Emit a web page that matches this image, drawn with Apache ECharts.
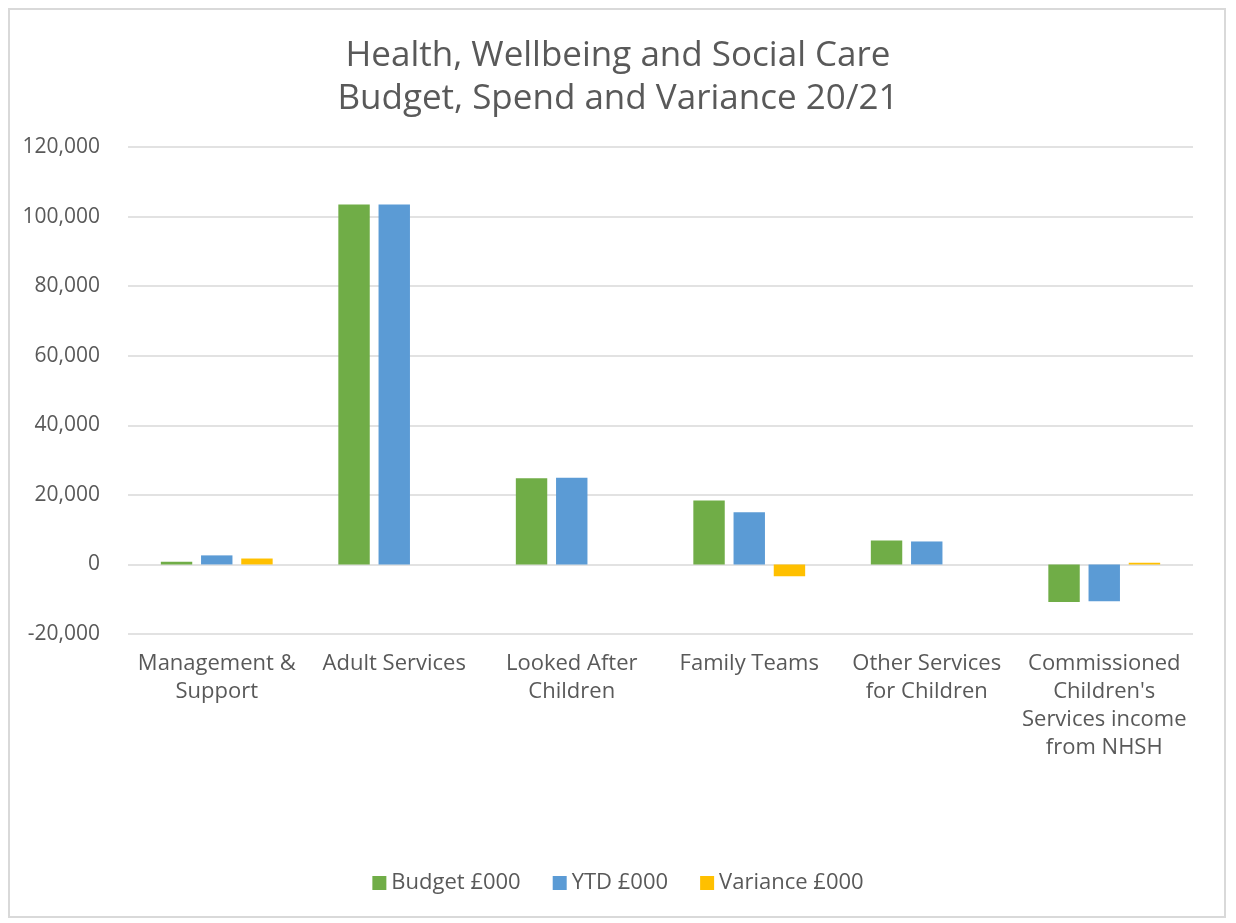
<!DOCTYPE html>
<html>
<head>
<meta charset="utf-8">
<script src="https://cdn.jsdelivr.net/npm/echarts@6/dist/echarts.min.js"></script>
<style>
  html, body { margin: 0; padding: 0; background: #fff; }
  #frame { position: absolute; left: 8px; top: 8px; width: 1218px; height: 910px; border: 2px solid #d9d9d9; box-sizing: border-box; }
  #chart { position: absolute; left: 0; top: 0; width: 1236px; height: 923px; }
</style>
</head>
<body>
<div id="frame"></div>
<div id="chart"></div>
<script>
// categories and series values (£000)
var categories = [
  'Management &\nSupport',
  'Adult Services',
  'Looked After\nChildren',
  'Family Teams',
  'Other Services\nfor Children',
  'Commissioned\nChildren\'s\nServices income\nfrom NHSH'
];
var budget = [800, 103500, 24800, 18400, 6900, -10800];
var ytd = [2600, 103500, 24900, 15000, 6600, -10600];
var variance = [1700, 0, 0, -3400, 0, 500];

var textColor = '#595959';
var fontFam = '"Open Sans", "Liberation Sans", sans-serif';

var chart = echarts.init(document.getElementById('chart'));
chart.setOption({
  animation: false,
  color: ['#70ad47', '#5b9bd5', '#ffc000'],
  title: {
    text: 'Health, Wellbeing and Social Care\nBudget, Spend and Variance 20/21',
    left: 'center',
    top: 30,
    textStyle: { fontFamily: fontFam, fontSize: 35, fontWeight: 'normal', color: textColor, lineHeight: 43 }
  },
  legend: {
    bottom: 24,
    left: 'center',
    itemWidth: 14,
    itemHeight: 14,
    itemGap: 32,
    icon: 'rect',
    textStyle: { fontFamily: fontFam, fontSize: 22, color: textColor }
  },
  grid: { left: 128, right: 43, top: 147, bottom: 289 },
  xAxis: {
    type: 'category',
    data: categories,
    axisLine: { show: false },
    axisTick: { show: false },
    axisLabel: {
      interval: 0,
      margin: 16,
      fontFamily: fontFam,
      fontSize: 22,
      lineHeight: 28,
      color: textColor
    }
  },
  yAxis: {
    type: 'value',
    min: -20000,
    max: 120000,
    interval: 20000,
    axisLine: { show: false },
    axisTick: { show: false },
    splitLine: { lineStyle: { color: '#d9d9d9', width: 1.5 } },
    axisLabel: {
      margin: 28,
      fontFamily: fontFam,
      fontSize: 21,
      color: textColor,
      formatter: function (v) { return v.toLocaleString('en-GB'); }
    }
  },
  series: [
    { name: 'Budget £000', type: 'bar', data: budget, barGap: '28%', barCategoryGap: '37%' },
    { name: 'YTD £000', type: 'bar', data: ytd },
    { name: 'Variance £000', type: 'bar', data: variance }
  ]
});
</script>
</body>
</html>
